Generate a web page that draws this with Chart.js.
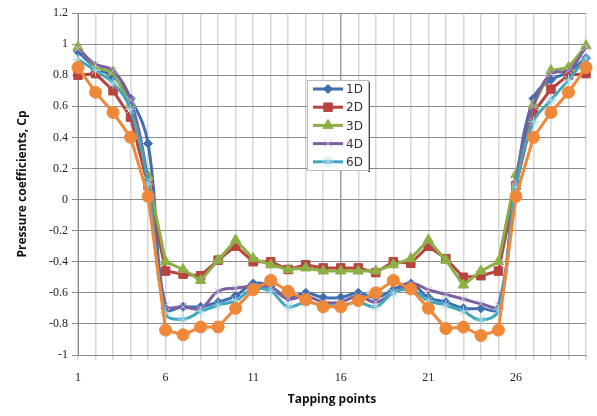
<!DOCTYPE html>
<html>
<head>
<meta charset="utf-8">
<script src="https://cdn.jsdelivr.net/npm/chart.js@4/dist/chart.umd.min.js"></script>
<style>
  html, body { margin: 0; padding: 0; background: #fff; }
  #wrap { width: 597px; height: 416px; }
</style>
</head>
<body>
<div id="wrap"><canvas id="cp"></canvas></div>
<script>
// Tapping points 1..30
const taps = [];
for (let i = 1; i <= 30; i++) taps.push(String(i));

// Cp values
const cp1D = [0.95, 0.85, 0.79, 0.65, 0.36, -0.70, -0.69, -0.69, -0.66, -0.62,
  -0.54, -0.56, -0.63, -0.60, -0.63, -0.63, -0.60, -0.63, -0.58, -0.54,
  -0.63, -0.66, -0.70, -0.70, -0.70, 0.11, 0.65, 0.77, 0.82, 0.91];
const cp2D = [0.80, 0.81, 0.70, 0.53, 0.09, -0.46, -0.48, -0.49, -0.39, -0.30,
  -0.40, -0.40, -0.45, -0.42, -0.44, -0.44, -0.44, -0.47, -0.40, -0.41,
  -0.30, -0.38, -0.50, -0.49, -0.46, 0.09, 0.56, 0.71, 0.80, 0.81];
const cp3D = [0.98, 0.85, 0.82, 0.61, 0.15, -0.40, -0.45, -0.52, -0.39, -0.26,
  -0.38, -0.42, -0.45, -0.44, -0.46, -0.46, -0.46, -0.46, -0.42, -0.38,
  -0.26, -0.39, -0.55, -0.46, -0.40, 0.16, 0.61, 0.83, 0.85, 0.99];
const cp4D = [0.97, 0.87, 0.83, 0.64, 0.12, -0.68, -0.69, -0.70, -0.59, -0.57,
  -0.56, -0.57, -0.64, -0.62, -0.66, -0.66, -0.62, -0.66, -0.60, -0.54,
  -0.58, -0.61, -0.64, -0.67, -0.68, 0.12, 0.60, 0.81, 0.83, 0.98];
const cp6D = [0.90, 0.83, 0.75, 0.58, 0.10, -0.73, -0.77, -0.72, -0.68, -0.65,
  -0.575, -0.59, -0.69, -0.66, -0.68, -0.68, -0.66, -0.69, -0.60, -0.58,
  -0.65, -0.68, -0.72, -0.775, -0.71, 0.08, 0.50, 0.64, 0.77, 0.91];
const cp8D = [0.85, 0.69, 0.56, 0.40, 0.02, -0.84, -0.87, -0.82, -0.82, -0.70,
  -0.58, -0.52, -0.59, -0.645, -0.69, -0.69, -0.65, -0.60, -0.52, -0.575,
  -0.70, -0.83, -0.82, -0.875, -0.84, 0.02, 0.40, 0.56, 0.69, 0.85];

const tickShown = ["1", "6", "11", "16", "21", "26"];

// legend drawn inside the plot, like the original
const boxLegend = {
  id: "boxLegend",
  afterDraw(chart) {
    const ctx = chart.ctx;
    const x0 = 307, y0 = 80, w = 61, h = 90;
    ctx.save();
    ctx.fillStyle = "#fff";
    ctx.fillRect(x0, y0, w, h);
    ctx.fillStyle = "#444";
    ctx.fillRect(x0 + w, y0 + 2, 2, h);
    ctx.fillStyle = "#999";
    ctx.fillRect(x0 + 2, y0 + h, w, 1);
    ctx.strokeStyle = "#bbb";
    ctx.lineWidth = 1;
    ctx.strokeRect(x0 + 0.5, y0 + 0.5, w, h);
    ctx.font = "12px 'DejaVu Sans'";
    ctx.textBaseline = "middle";
    let row = 0;
    chart.data.datasets.forEach((ds) => {
      if (ds.hideLegend) return;
      const y = y0 + 9 + row * 18.2;
      row++;
      ctx.strokeStyle = ds.borderColor;
      ctx.lineWidth = 3;
      ctx.beginPath();
      ctx.moveTo(x0 + 6, y);
      ctx.lineTo(x0 + 36, y);
      ctx.stroke();
      ctx.fillStyle = ds.pointBackgroundColor;
      ctx.strokeStyle = ds.pointBorderColor;
      ctx.lineWidth = ds.pointBorderWidth;
      Chart.helpers.drawPoint(ctx, { pointStyle: ds.pointStyle, rotation: 0, radius: ds.pointRadius, borderWidth: ds.pointBorderWidth }, x0 + 21, y);
      ctx.fillStyle = "#333";
      ctx.fillText(ds.label, x0 + 39, y + 1);
    });
    ctx.restore();
  }
};

function series(label, data, color, style, radius, ptColor, smooth, order, hide) {
  return {
    label: label,
    data: data,
    order: order,
    borderColor: color,
    backgroundColor: color,
    borderWidth: 3,
    pointStyle: style,
    pointRadius: radius,
    pointHoverRadius: radius,
    pointBackgroundColor: ptColor,
    pointBorderColor: ptColor,
    pointBorderWidth: 1,
    tension: smooth ? 0.4 : 0,
    hideLegend: !!hide
  };
}

new Chart(document.getElementById("cp"), {
  type: "line",
  data: {
    labels: taps,
    datasets: [
      series("1D", cp1D, "#3F6FAF", "rectRot", 4.5, "#3F6FAF", true, 5),
      series("2D", cp2D, "#B8433F", "rect", 6, "#B8433F", false, 4),
      series("3D", cp3D, "#8DB046", "triangle", 6, "#8DB046", false, 3),
      series("4D", cp4D, "#7D5F9F", "crossRot", 5.5, "#C8B8DC", true, 2),
      series("6D", cp6D, "#3FA6C0", "star", 5.5, "#9FD3E2", true, 1),
      series("8D", cp8D, "#F0883A", "circle", 6, "#F0883A", false, 0, true)
    ]
  },
  options: {
    responsive: true,
    maintainAspectRatio: false,
    animation: false,
    layout: { padding: { top: 13, right: 4, left: 0, bottom: 0 } },
    plugins: {
      legend: { display: false },
      tooltip: { enabled: false }
    },
    scales: {
      x: {
        offset: false,
        afterFit: (s) => { s.height = 61; },
        grid: {
          color: (c) => c.index === 15 ? "#a0a0a0" : "#d6d6d6",
          lineWidth: 1.5,
          drawTicks: true,
          tickLength: 5
        },
        border: { color: "#888" },
        ticks: {
          autoSkip: false,
          maxRotation: 0,
          padding: 11,
          color: "#222",
          font: { family: "'Liberation Serif'", size: 12 },
          callback: function (v) {
            const l = this.getLabelForValue(v);
            return tickShown.includes(l) ? l : "";
          }
        },
        title: {
          display: true,
          text: "Tapping points",
          color: "#111",
          font: { family: "'Open Sans'", size: 12, weight: "bold" },
          padding: { top: 4, bottom: 9 }
        }
      },
      y: {
        min: -1,
        max: 1.2,
        afterFit: (s) => { s.width = 78; },
        grid: { color: "#8c8c8c", lineWidth: 1, tickLength: 6 },
        border: { color: "#888" },
        ticks: {
          stepSize: 0.2,
          padding: 4,
          color: "#222",
          font: { family: "'Liberation Serif'", size: 12 },
          callback: (v) => String(Math.round(v * 10) / 10)
        },
        title: {
          display: true,
          text: "Pressure coefficients, Cp",
          color: "#111",
          font: { family: "'Open Sans'", size: 12, weight: "bold" },
          padding: { top: 15, bottom: 0 }
        }
      }
    }
  },
  plugins: [boxLegend]
});
</script>
</body>
</html>
